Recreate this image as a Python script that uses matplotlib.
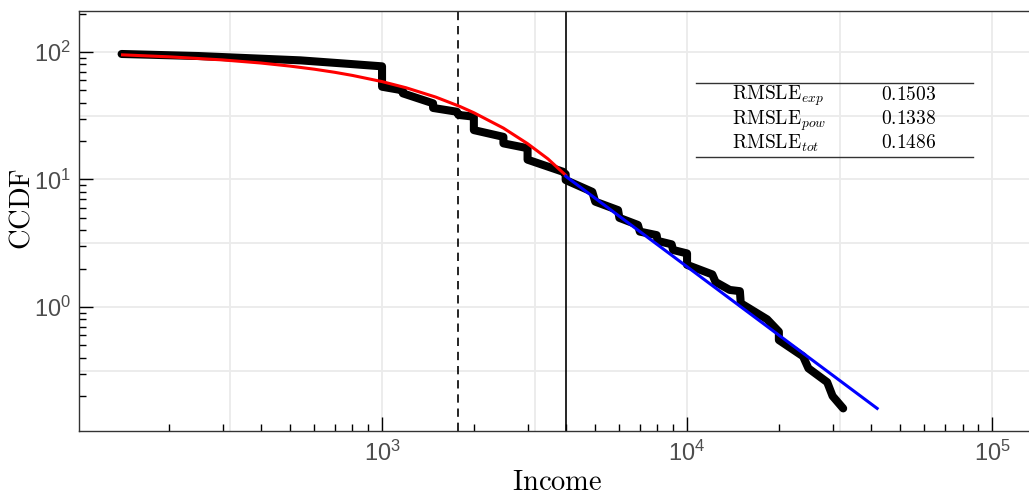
import matplotlib
matplotlib.use("Agg")
import matplotlib.pyplot as plt
from matplotlib.lines import Line2D
import numpy as np

plt.rcParams['font.family'] = ['Liberation Sans', 'DejaVu Sans']
plt.rcParams['mathtext.fontset'] = 'cm'

# ---- data ----
# empirical CCDF (percent) as a stepped polyline
income = [140, 250, 540, 790, 1000, 1000, 1170, 1170, 1470, 1470, 1760, 1780,
          2000, 2000, 2500, 2500, 3000, 3000, 3920, 4000, 4000, 4890, 5000,
          5940, 6000, 6900, 7000, 7950, 8000, 8900, 9000, 10000, 10000, 12100,
          12400, 13800, 14900, 15000, 18300, 20000, 20000, 24000, 25000,
          28800, 30000, 32500]
ccdf = [96.5, 93.0, 86.0, 80.5, 77.2, 53.4, 50.0, 47.4, 39.6, 36.4, 34.0, 32.1,
        31.1, 24.4, 21.6, 19.2, 17.6, 14.3, 11.5, 11.0, 9.9, 8.0, 6.7,
        5.75, 5.0, 4.4, 3.9, 3.66, 3.3, 3.1, 2.8, 2.63, 2.14, 1.80,
        1.57, 1.36, 1.33, 1.07, 0.80, 0.64, 0.55, 0.41, 0.33,
        0.257, 0.20, 0.16]

# exponential fit (red)
exp_x = [141, 200, 300, 400, 500, 600, 700, 800, 1000, 1200, 1500, 1800,
         2000, 2500, 3000, 3500, 4000]
exp_y = [95.0, 91.7, 86.7, 82.0, 77.5, 73.3, 69.3, 65.5, 58.6, 52.4, 44.3,
         37.4, 33.4, 25.3, 19.1, 14.5, 10.8]

# power-law fit (blue)
pow_x = [4000, 42000]
pow_y = [10.6, 0.16]

x_mean = 1776      # dashed line
x_cut = 4000       # solid line

table_names = [r'$\mathrm{RMSLE}_{exp}$', r'$\mathrm{RMSLE}_{pow}$', r'$\mathrm{RMSLE}_{tot}$']
table_vals = ['0.1503', '0.1338', '0.1486']

# ---- figure ----
W, H = 1029, 496
fig = plt.figure(figsize=(W / 100, H / 100), dpi=100)
L, R, T, B = 79, 1040, 10.7, 431
ax = fig.add_axes([L / W, 1 - B / H, (R - L) / W, (B - T) / H])
ax.set_xscale('log')
ax.set_yscale('log')
ax.set_xlim(101.5, 143600)
ax.set_ylim(0.1064, 210.9)

# grid at every half decade
grid_color = '#ebebeb'
for e in np.arange(2.5, 5.01, 0.5):
    ax.axvline(10 ** e, color=grid_color, lw=1.3, zorder=0)
for e in np.arange(-0.5, 2.01, 0.5):
    ax.axhline(10 ** e, color=grid_color, lw=1.3, zorder=0)

ax.axvline(x_mean, color='black', lw=1.2, ls=(0, (5, 3.5)), zorder=1)
ax.axvline(x_cut, color='black', lw=1.2, zorder=1)

ax.plot(income, ccdf, color='black', lw=5.8, solid_capstyle='round',
        solid_joinstyle='round', zorder=2)
ax.plot(exp_x, exp_y, color='#ff0000', lw=2.2, zorder=3)
ax.plot(pow_x, pow_y, color='#0000ff', lw=2.2, zorder=3)

for s in ['top', 'left', 'bottom']:
    ax.spines[s].set_color('#333333')
    ax.spines[s].set_linewidth(1.0)
ax.spines['right'].set_visible(False)

ax.tick_params(which='both', direction='in', top=False, right=False,
               colors='black', labelcolor='#4d4d4d', labelsize=17)
ax.tick_params(which='major', length=10, width=1.0)
ax.tick_params(which='minor', length=5, width=1.0)
ax.tick_params(axis='x', pad=7)
ax.tick_params(axis='y', pad=6)
ax.set_xticks([1e3, 1e4, 1e5])
ax.set_yticks([1, 10, 100])
ax.xaxis.set_minor_locator(matplotlib.ticker.LogLocator(base=10, subs=np.arange(2, 10)))
ax.yaxis.set_minor_locator(matplotlib.ticker.LogLocator(base=10, subs=np.arange(2, 10)))
ax.xaxis.set_minor_formatter(matplotlib.ticker.NullFormatter())
ax.yaxis.set_minor_formatter(matplotlib.ticker.NullFormatter())

fig.text(557 / W, 1 - 483 / H, r'$\mathrm{Income}$', fontsize=20.5,
         ha='center', va='center', color='black')
fig.text(22 / W, 1 - 209 / H, r'$\mathrm{CCDF}$', fontsize=20.5,
         ha='center', va='center', rotation=90, color='black')

# table
for yy in (83, 157):
    fig.add_artist(Line2D([696 / W, 973 / W], [1 - yy / H, 1 - yy / H],
                          color='#333333', lw=1.0))
for i, (nm, v) in enumerate(zip(table_names, table_vals)):
    yb = 100 + 24.2 * i
    fig.text(732 / W, 1 - yb / H, nm, fontsize=14, ha='left', va='baseline')
    fig.text(909 / W, 1 - yb / H, r'$%s$' % v, fontsize=14, ha='center', va='baseline')

fig.savefig('out.png', dpi=100)
